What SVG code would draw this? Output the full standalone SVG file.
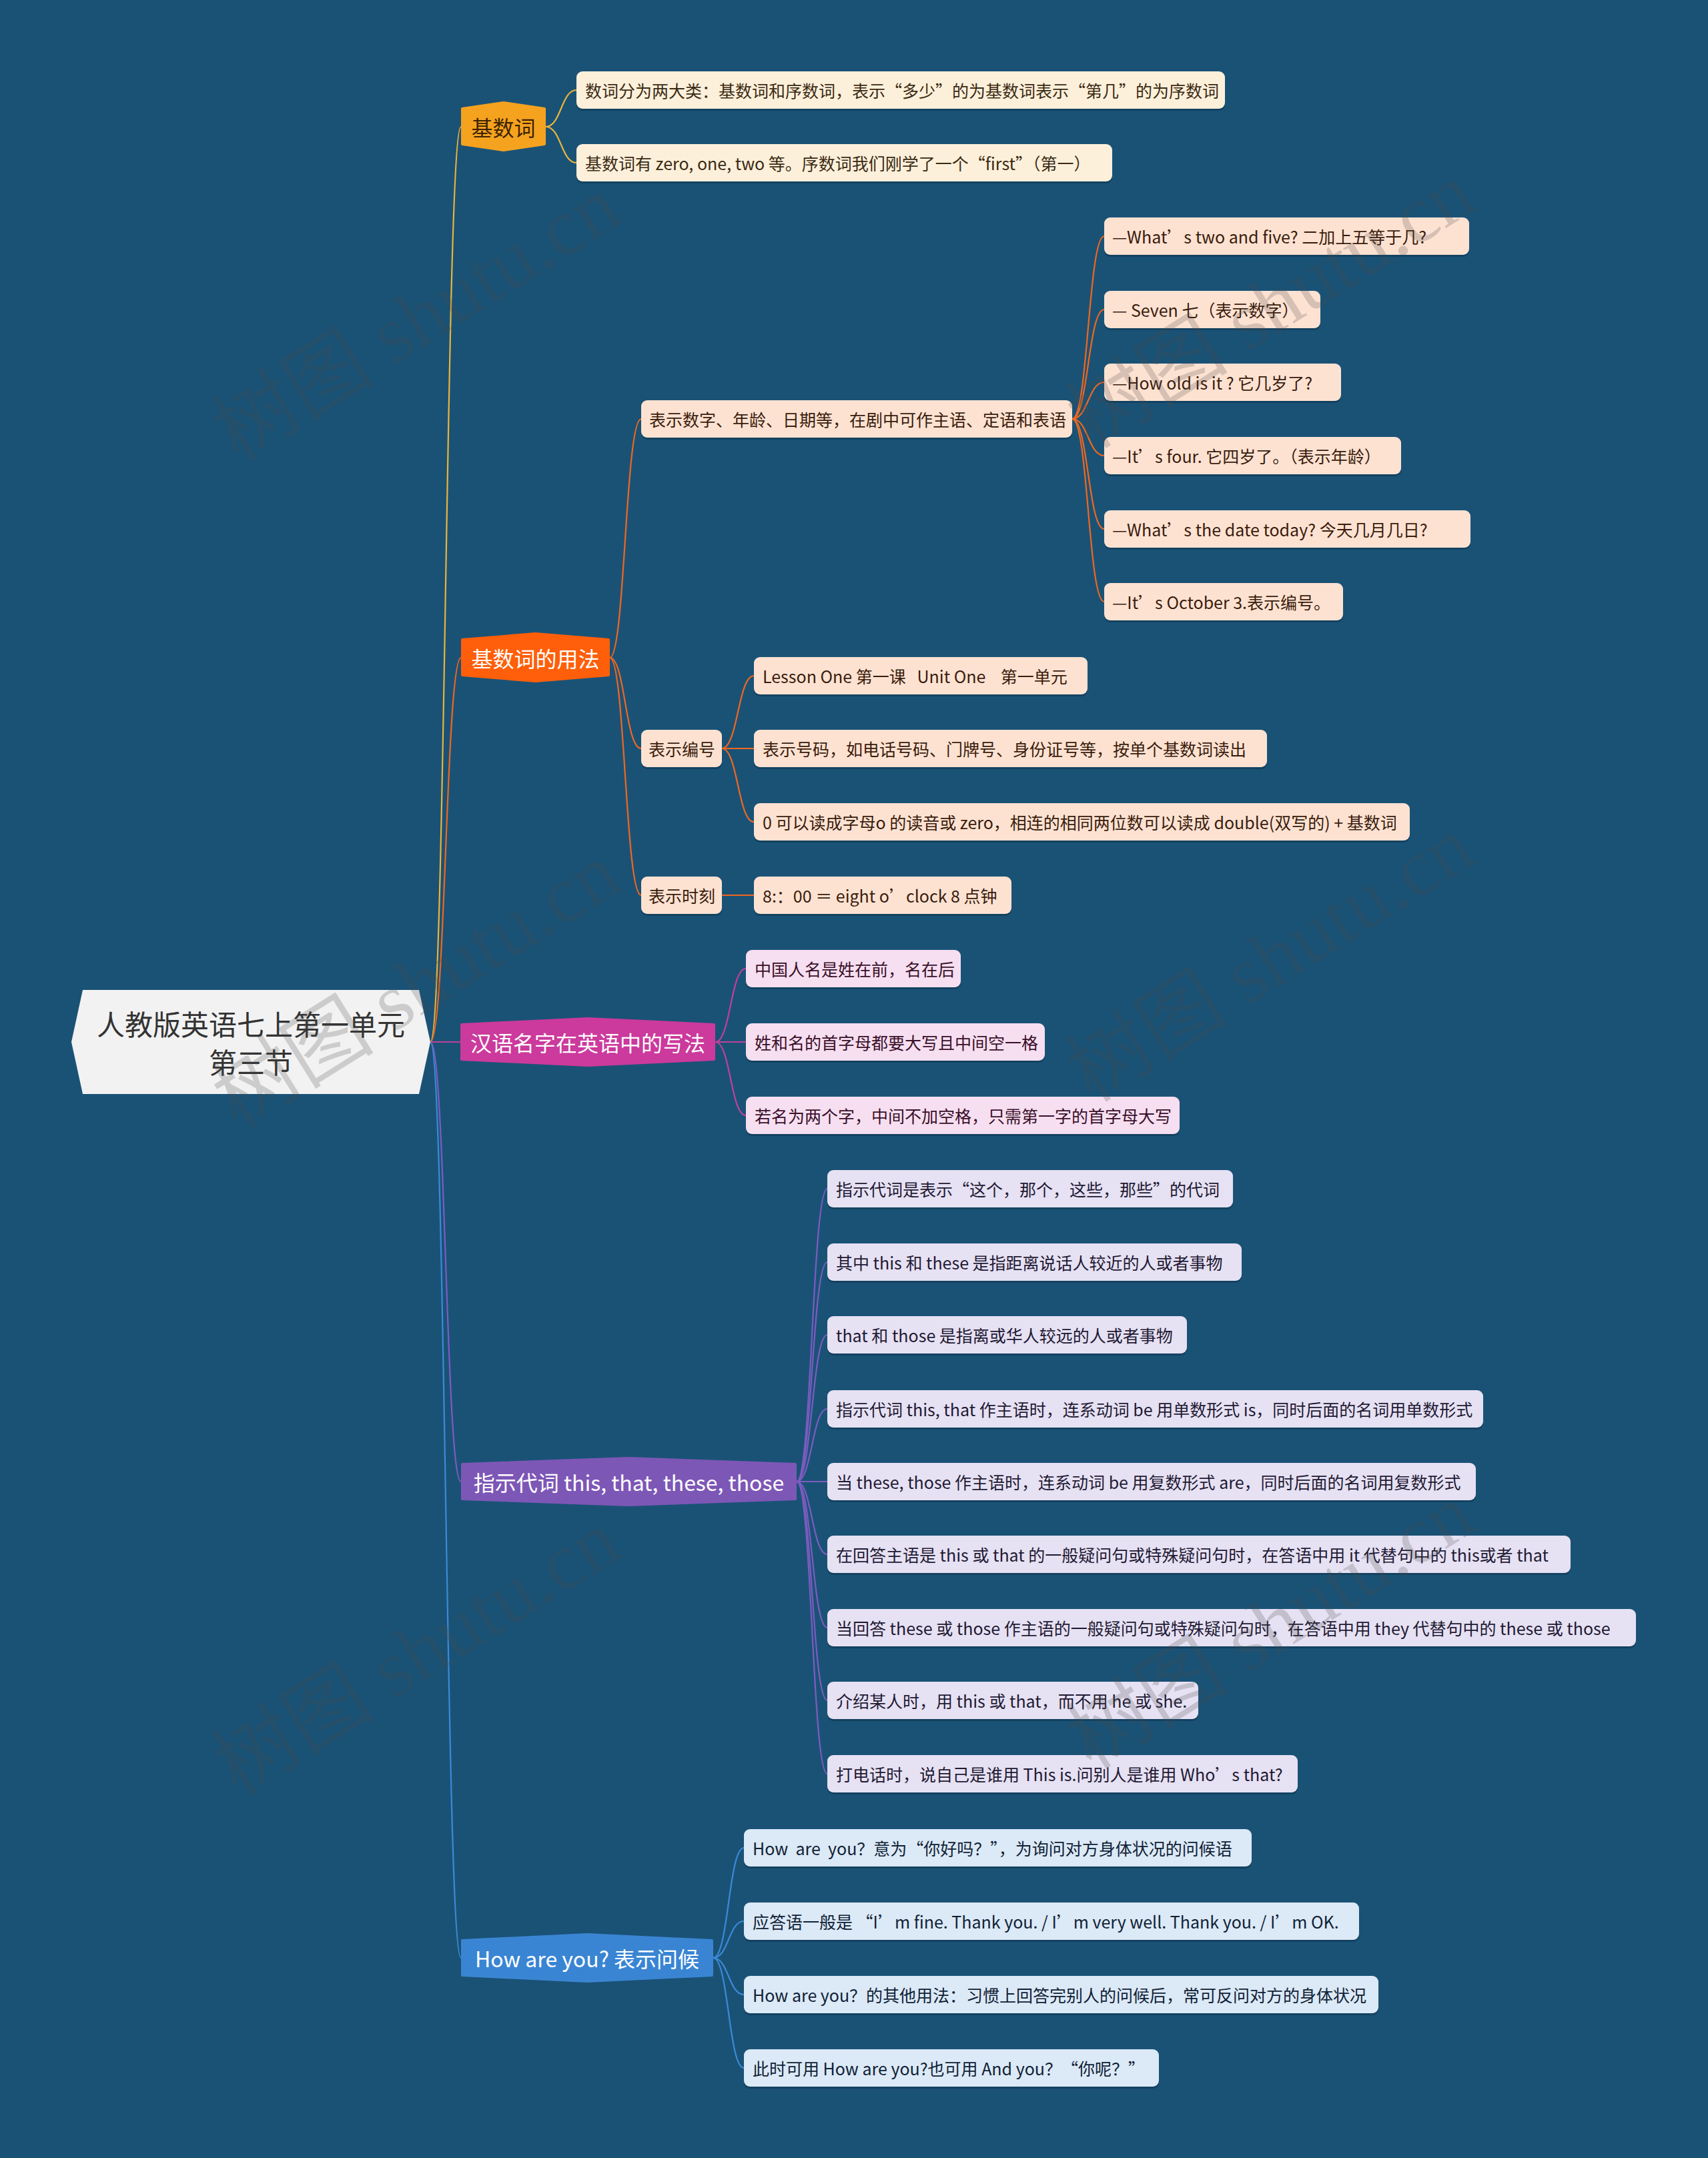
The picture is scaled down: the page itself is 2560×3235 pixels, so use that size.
<svg xmlns="http://www.w3.org/2000/svg" width="2560" height="3235" viewBox="0 0 2560 3235">
<defs>
<style>
text{font-family:"Noto Sans CJK SC","Noto Sans",sans-serif;white-space:pre}
.lt{font-size:25px;dominant-baseline:central}
.mt{font-size:32px;dominant-baseline:central;text-anchor:middle;fill:#fff}
.sh{fill:#0a2f48;opacity:.45}
.c1{fill:#FDF0DA}.c2{fill:#FDE2D2}.c3{fill:#F6DFF0}.c4{fill:#E6E1F3}.c5{fill:#DCE9F6}
.t1{fill:#3a2a14}.t2{fill:#3a1c0c}.t3{fill:#3a0f2a}.t4{fill:#1f1a33}.t5{fill:#0f2236}
.wm{font-family:"Liberation Serif","Noto Sans CJK SC",serif;font-size:122px;fill:#4a4a4a;opacity:.22}
.k{fill:none;stroke-width:2.2}
</style>
</defs>
<rect width="2560" height="3235" fill="#1A5276"/>

<g id="connectors">
<path class="k" stroke="#E9B43C" d="M645,1562 C668,1562 668,190 691,190"/>
<path class="k" stroke="#F0671E" d="M645,1562 C668,1562 668,986 691,986"/>
<path class="k" stroke="#C0409A" d="M645,1562 L690,1562"/>
<path class="k" stroke="#7C5CC0" d="M645,1562 C668,1562 668,2221 691,2221"/>
<path class="k" stroke="#3B8AD8" d="M645,1562 C668,1562 668,2935 691,2935"/>

<path class="k" stroke="#E9B43C" d="M818,190 C841,190 841,135 864,135"/>
<path class="k" stroke="#E9B43C" d="M818,190 C841,190 841,244 864,244"/>

<path class="k" stroke="#F0671E" d="M914,986 C937,986 937,628 961,628"/>
<path class="k" stroke="#F0671E" d="M914,986 C937,986 937,1122 961,1122"/>
<path class="k" stroke="#F0671E" d="M914,986 C937,986 937,1342 961,1342"/>

<path class="k" stroke="#F0671E" d="M1607,628 C1631,628 1631,354 1655,354"/>
<path class="k" stroke="#F0671E" d="M1607,628 C1631,628 1631,464 1655,464"/>
<path class="k" stroke="#F0671E" d="M1607,628 C1631,628 1631,573 1655,573"/>
<path class="k" stroke="#F0671E" d="M1607,628 C1631,628 1631,683 1655,683"/>
<path class="k" stroke="#F0671E" d="M1607,628 C1631,628 1631,793 1655,793"/>
<path class="k" stroke="#F0671E" d="M1607,628 C1631,628 1631,902 1655,902"/>

<path class="k" stroke="#F0671E" d="M1082,1122 C1106,1122 1106,1013 1130,1013"/>
<path class="k" stroke="#F0671E" d="M1082,1122 L1130,1122"/>
<path class="k" stroke="#F0671E" d="M1082,1122 C1106,1122 1106,1232 1130,1232"/>
<path class="k" stroke="#F0671E" d="M1082,1342 L1130,1342"/>

<path class="k" stroke="#C0409A" d="M1072,1562 C1095,1562 1095,1452 1118,1452"/>
<path class="k" stroke="#C0409A" d="M1072,1562 L1118,1562"/>
<path class="k" stroke="#C0409A" d="M1072,1562 C1095,1562 1095,1672 1118,1672"/>

<path class="k" stroke="#7C5CC0" d="M1194,2221 C1217,2221 1217,1782 1240,1782"/>
<path class="k" stroke="#7C5CC0" d="M1194,2221 C1217,2221 1217,1892 1240,1892"/>
<path class="k" stroke="#7C5CC0" d="M1194,2221 C1217,2221 1217,2001 1240,2001"/>
<path class="k" stroke="#7C5CC0" d="M1194,2221 C1217,2221 1217,2112 1240,2112"/>
<path class="k" stroke="#7C5CC0" d="M1194,2221 L1240,2221"/>
<path class="k" stroke="#7C5CC0" d="M1194,2221 C1217,2221 1217,2330 1240,2330"/>
<path class="k" stroke="#7C5CC0" d="M1194,2221 C1217,2221 1217,2440 1240,2440"/>
<path class="k" stroke="#7C5CC0" d="M1194,2221 C1217,2221 1217,2549 1240,2549"/>
<path class="k" stroke="#7C5CC0" d="M1194,2221 C1217,2221 1217,2659 1240,2659"/>

<path class="k" stroke="#3B8AD8" d="M1069,2935 C1092,2935 1092,2770 1115,2770"/>
<path class="k" stroke="#3B8AD8" d="M1069,2935 C1092,2935 1092,2880 1115,2880"/>
<path class="k" stroke="#3B8AD8" d="M1069,2935 C1092,2935 1092,2990 1115,2990"/>
<path class="k" stroke="#3B8AD8" d="M1069,2935 C1092,2935 1092,3100 1115,3100"/>
</g>

<g id="root">
<polygon points="107,1562 124,1484 628,1484 645,1562 628,1640 124,1640" fill="#F2F2F2"/>
<text x="376" y="1533" font-size="42" fill="#333" text-anchor="middle" dominant-baseline="central">人教版英语七上第一单元</text>
<text x="376" y="1590" font-size="42" fill="#333" text-anchor="middle" dominant-baseline="central">第三节</text>
</g>

<g id="n-jishuci">
<polygon points="693,163 754.5,154 816,163 816,216 754.5,225 693,216" fill="#F5A21F" stroke="#F5A21F" stroke-width="4" stroke-linejoin="round"/>
<text class="mt" x="754.5" y="190" style="fill:#3d2300">基数词</text>
</g>
<g id="n-jishuci-1"><rect class="sh" x="864" y="110" width="972" height="56" rx="9"/><rect class="c1" x="864" y="107" width="972" height="56" rx="9"/><text class="lt t1" x="877" y="135">数词分为两大类：基数词和序数词，表示“多少”的为基数词表示“第几”的为序数词</text></g>
<g id="n-jishuci-2"><rect class="sh" x="864" y="219" width="803" height="56" rx="9"/><rect class="c1" x="864" y="216" width="803" height="56" rx="9"/><text class="lt t1" x="877" y="244">基数词有 zero, one, two 等。序数词我们刚学了一个“first”（第一）</text></g>

<g id="n-yongfa">
<polygon points="693,959 802.5,950 912,959 912,1012 802.5,1021 693,1012" fill="#FF5F0A" stroke="#FF5F0A" stroke-width="4" stroke-linejoin="round"/>
<text class="mt" x="802.5" y="986">基数词的用法</text>
</g>
<g id="n-shuzi"><rect class="sh" x="961" y="603" width="646" height="56" rx="9"/><rect class="c2" x="961" y="600" width="646" height="56" rx="9"/><text class="lt t2" x="973" y="628">表示数字、年龄、日期等，在剧中可作主语、定语和表语</text></g>
<g id="n-shuzi-1"><rect class="sh" x="1655" y="329" width="547" height="56" rx="9"/><rect class="c2" x="1655" y="326" width="547" height="56" rx="9"/><text class="lt t2" x="1667" y="354">—What’s two and five? 二加上五等于几?</text></g>
<g id="n-shuzi-2"><rect class="sh" x="1655" y="439" width="324" height="56" rx="9"/><rect class="c2" x="1655" y="436" width="324" height="56" rx="9"/><text class="lt t2" x="1667" y="464">— Seven 七（表示数字）</text></g>
<g id="n-shuzi-3"><rect class="sh" x="1655" y="548" width="355" height="56" rx="9"/><rect class="c2" x="1655" y="545" width="355" height="56" rx="9"/><text class="lt t2" x="1667" y="573">—How old is it ? 它几岁了?</text></g>
<g id="n-shuzi-4"><rect class="sh" x="1655" y="658" width="445" height="56" rx="9"/><rect class="c2" x="1655" y="655" width="445" height="56" rx="9"/><text class="lt t2" x="1667" y="683">—It’s four. 它四岁了。（表示年龄）</text></g>
<g id="n-shuzi-5"><rect class="sh" x="1655" y="768" width="549" height="56" rx="9"/><rect class="c2" x="1655" y="765" width="549" height="56" rx="9"/><text class="lt t2" x="1667" y="793">—What’s the date today? 今天几月几日?</text></g>
<g id="n-shuzi-6"><rect class="sh" x="1655" y="877" width="358" height="56" rx="9"/><rect class="c2" x="1655" y="874" width="358" height="56" rx="9"/><text class="lt t2" x="1667" y="902">—It’s October 3.表示编号。</text></g>

<g id="n-bianhao"><rect class="sh" x="961" y="1097" width="121" height="56" rx="9"/><rect class="c2" x="961" y="1094" width="121" height="56" rx="9"/><text class="lt t2" x="972" y="1122">表示编号</text></g>
<g id="n-bianhao-1"><rect class="sh" x="1130" y="988" width="500" height="56" rx="9"/><rect class="c2" x="1130" y="985" width="500" height="56" rx="9"/><text class="lt t2" x="1143" y="1013">Lesson One 第一课   Unit One    第一单元</text></g>
<g id="n-bianhao-2"><rect class="sh" x="1130" y="1097" width="769" height="56" rx="9"/><rect class="c2" x="1130" y="1094" width="769" height="56" rx="9"/><text class="lt t2" x="1143" y="1122">表示号码，如电话号码、门牌号、身份证号等，按单个基数词读出</text></g>
<g id="n-bianhao-3"><rect class="sh" x="1130" y="1207" width="983" height="56" rx="9"/><rect class="c2" x="1130" y="1204" width="983" height="56" rx="9"/><text class="lt t2" x="1143" y="1232">0 可以读成字母o 的读音或 zero，相连的相同两位数可以读成 double(双写的) + 基数词</text></g>

<g id="n-shike"><rect class="sh" x="961" y="1317" width="121" height="56" rx="9"/><rect class="c2" x="961" y="1314" width="121" height="56" rx="9"/><text class="lt t2" x="972" y="1342">表示时刻</text></g>
<g id="n-shike-1"><rect class="sh" x="1130" y="1317" width="386" height="56" rx="9"/><rect class="c2" x="1130" y="1314" width="386" height="56" rx="9"/><text class="lt t2" x="1143" y="1342">8:：00 ＝ eight o’clock 8 点钟</text></g>

<g id="n-mingzi">
<polygon points="692,1536 881,1527 1070,1536 1070,1588 881,1597 692,1588" fill="#CB3A9C" stroke="#CB3A9C" stroke-width="4" stroke-linejoin="round"/>
<text class="mt" x="881" y="1562">汉语名字在英语中的写法</text>
</g>
<g id="n-mingzi-1"><rect class="sh" x="1118" y="1427" width="322" height="56" rx="9"/><rect class="c3" x="1118" y="1424" width="322" height="56" rx="9"/><text class="lt t3" x="1131" y="1452">中国人名是姓在前，名在后</text></g>
<g id="n-mingzi-2"><rect class="sh" x="1118" y="1537" width="448" height="56" rx="9"/><rect class="c3" x="1118" y="1534" width="448" height="56" rx="9"/><text class="lt t3" x="1131" y="1562">姓和名的首字母都要大写且中间空一格</text></g>
<g id="n-mingzi-3"><rect class="sh" x="1118" y="1647" width="650" height="56" rx="9"/><rect class="c3" x="1118" y="1644" width="650" height="56" rx="9"/><text class="lt t3" x="1131" y="1672">若名为两个字，中间不加空格，只需第一字的首字母大写</text></g>

<g id="n-zhishi">
<polygon points="693,2195 942.5,2186 1192,2195 1192,2247 942.5,2256 693,2247" fill="#7D57B6" stroke="#7D57B6" stroke-width="4" stroke-linejoin="round"/>
<text class="mt" x="942.5" y="2221">指示代词 this, that, these, those</text>
</g>
<g id="n-zhishi-1"><rect class="sh" x="1240" y="1757" width="608" height="56" rx="9"/><rect class="c4" x="1240" y="1754" width="608" height="56" rx="9"/><text class="lt t4" x="1253" y="1782">指示代词是表示“这个，那个，这些，那些”的代词</text></g>
<g id="n-zhishi-2"><rect class="sh" x="1240" y="1867" width="621" height="56" rx="9"/><rect class="c4" x="1240" y="1864" width="621" height="56" rx="9"/><text class="lt t4" x="1253" y="1892">其中 this 和 these 是指距离说话人较近的人或者事物</text></g>
<g id="n-zhishi-3"><rect class="sh" x="1240" y="1976" width="539" height="56" rx="9"/><rect class="c4" x="1240" y="1973" width="539" height="56" rx="9"/><text class="lt t4" x="1253" y="2001">that 和 those 是指离或华人较远的人或者事物</text></g>
<g id="n-zhishi-4"><rect class="sh" x="1240" y="2087" width="983" height="56" rx="9"/><rect class="c4" x="1240" y="2084" width="983" height="56" rx="9"/><text class="lt t4" x="1253" y="2112">指示代词 this, that 作主语时，连系动词 be 用单数形式 is，同时后面的名词用单数形式</text></g>
<g id="n-zhishi-5"><rect class="sh" x="1240" y="2196" width="972" height="56" rx="9"/><rect class="c4" x="1240" y="2193" width="972" height="56" rx="9"/><text class="lt t4" x="1253" y="2221">当 these, those 作主语时，连系动词 be 用复数形式 are，同时后面的名词用复数形式</text></g>
<g id="n-zhishi-6"><rect class="sh" x="1240" y="2305" width="1114" height="56" rx="9"/><rect class="c4" x="1240" y="2302" width="1114" height="56" rx="9"/><text class="lt t4" x="1253" y="2330">在回答主语是 this 或 that 的一般疑问句或特殊疑问句时，在答语中用 it 代替句中的 this或者 that</text></g>
<g id="n-zhishi-7"><rect class="sh" x="1240" y="2415" width="1212" height="56" rx="9"/><rect class="c4" x="1240" y="2412" width="1212" height="56" rx="9"/><text class="lt t4" x="1253" y="2440">当回答 these 或 those 作主语的一般疑问句或特殊疑问句时，在答语中用 they 代替句中的 these 或 those</text></g>
<g id="n-zhishi-8"><rect class="sh" x="1240" y="2524" width="556" height="56" rx="9"/><rect class="c4" x="1240" y="2521" width="556" height="56" rx="9"/><text class="lt t4" x="1253" y="2549">介绍某人时，用 this 或 that，而不用 he 或 she.</text></g>
<g id="n-zhishi-9"><rect class="sh" x="1240" y="2634" width="705" height="56" rx="9"/><rect class="c4" x="1240" y="2631" width="705" height="56" rx="9"/><text class="lt t4" x="1253" y="2659">打电话时，说自己是谁用 This is.问别人是谁用 Who’s that?</text></g>

<g id="n-how">
<polygon points="693,2909 880,2900 1067,2909 1067,2961 880,2970 693,2961" fill="#3A85D3" stroke="#3A85D3" stroke-width="4" stroke-linejoin="round"/>
<text class="mt" x="880" y="2935">How are you? 表示问候</text>
</g>
<g id="n-how-1"><rect class="sh" x="1115" y="2745" width="761" height="56" rx="9"/><rect class="c5" x="1115" y="2742" width="761" height="56" rx="9"/><text class="lt t5" x="1128" y="2770">How  are  you？意为“你好吗？”，为询问对方身体状况的问候语</text></g>
<g id="n-how-2"><rect class="sh" x="1115" y="2855" width="922" height="56" rx="9"/><rect class="c5" x="1115" y="2852" width="922" height="56" rx="9"/><text class="lt t5" x="1128" y="2880">应答语一般是 “I’m fine. Thank you. / I’m very well. Thank you. / I’m OK.</text></g>
<g id="n-how-3"><rect class="sh" x="1115" y="2965" width="951" height="56" rx="9"/><rect class="c5" x="1115" y="2962" width="951" height="56" rx="9"/><text class="lt t5" x="1128" y="2990">How are you？的其他用法：习惯上回答完别人的问候后，常可反问对方的身体状况</text></g>
<g id="n-how-4"><rect class="sh" x="1115" y="3075" width="622" height="56" rx="9"/><rect class="c5" x="1115" y="3072" width="622" height="56" rx="9"/><text class="lt t5" x="1128" y="3100">此时可用 How are you?也可用 And you？“你呢？”</text></g>

<g id="watermarks">
<text class="wm" transform="translate(356,694) rotate(-32)">树图 shutu.cn</text>
<text class="wm" transform="translate(1636,674) rotate(-32)">树图 shutu.cn</text>
<text class="wm" transform="translate(356,1694) rotate(-32)">树图 shutu.cn</text>
<text class="wm" transform="translate(1636,1654) rotate(-32)">树图 shutu.cn</text>
<text class="wm" transform="translate(356,2694) rotate(-32)">树图 shutu.cn</text>
<text class="wm" transform="translate(1636,2654) rotate(-32)">树图 shutu.cn</text>
</g>
</svg>
